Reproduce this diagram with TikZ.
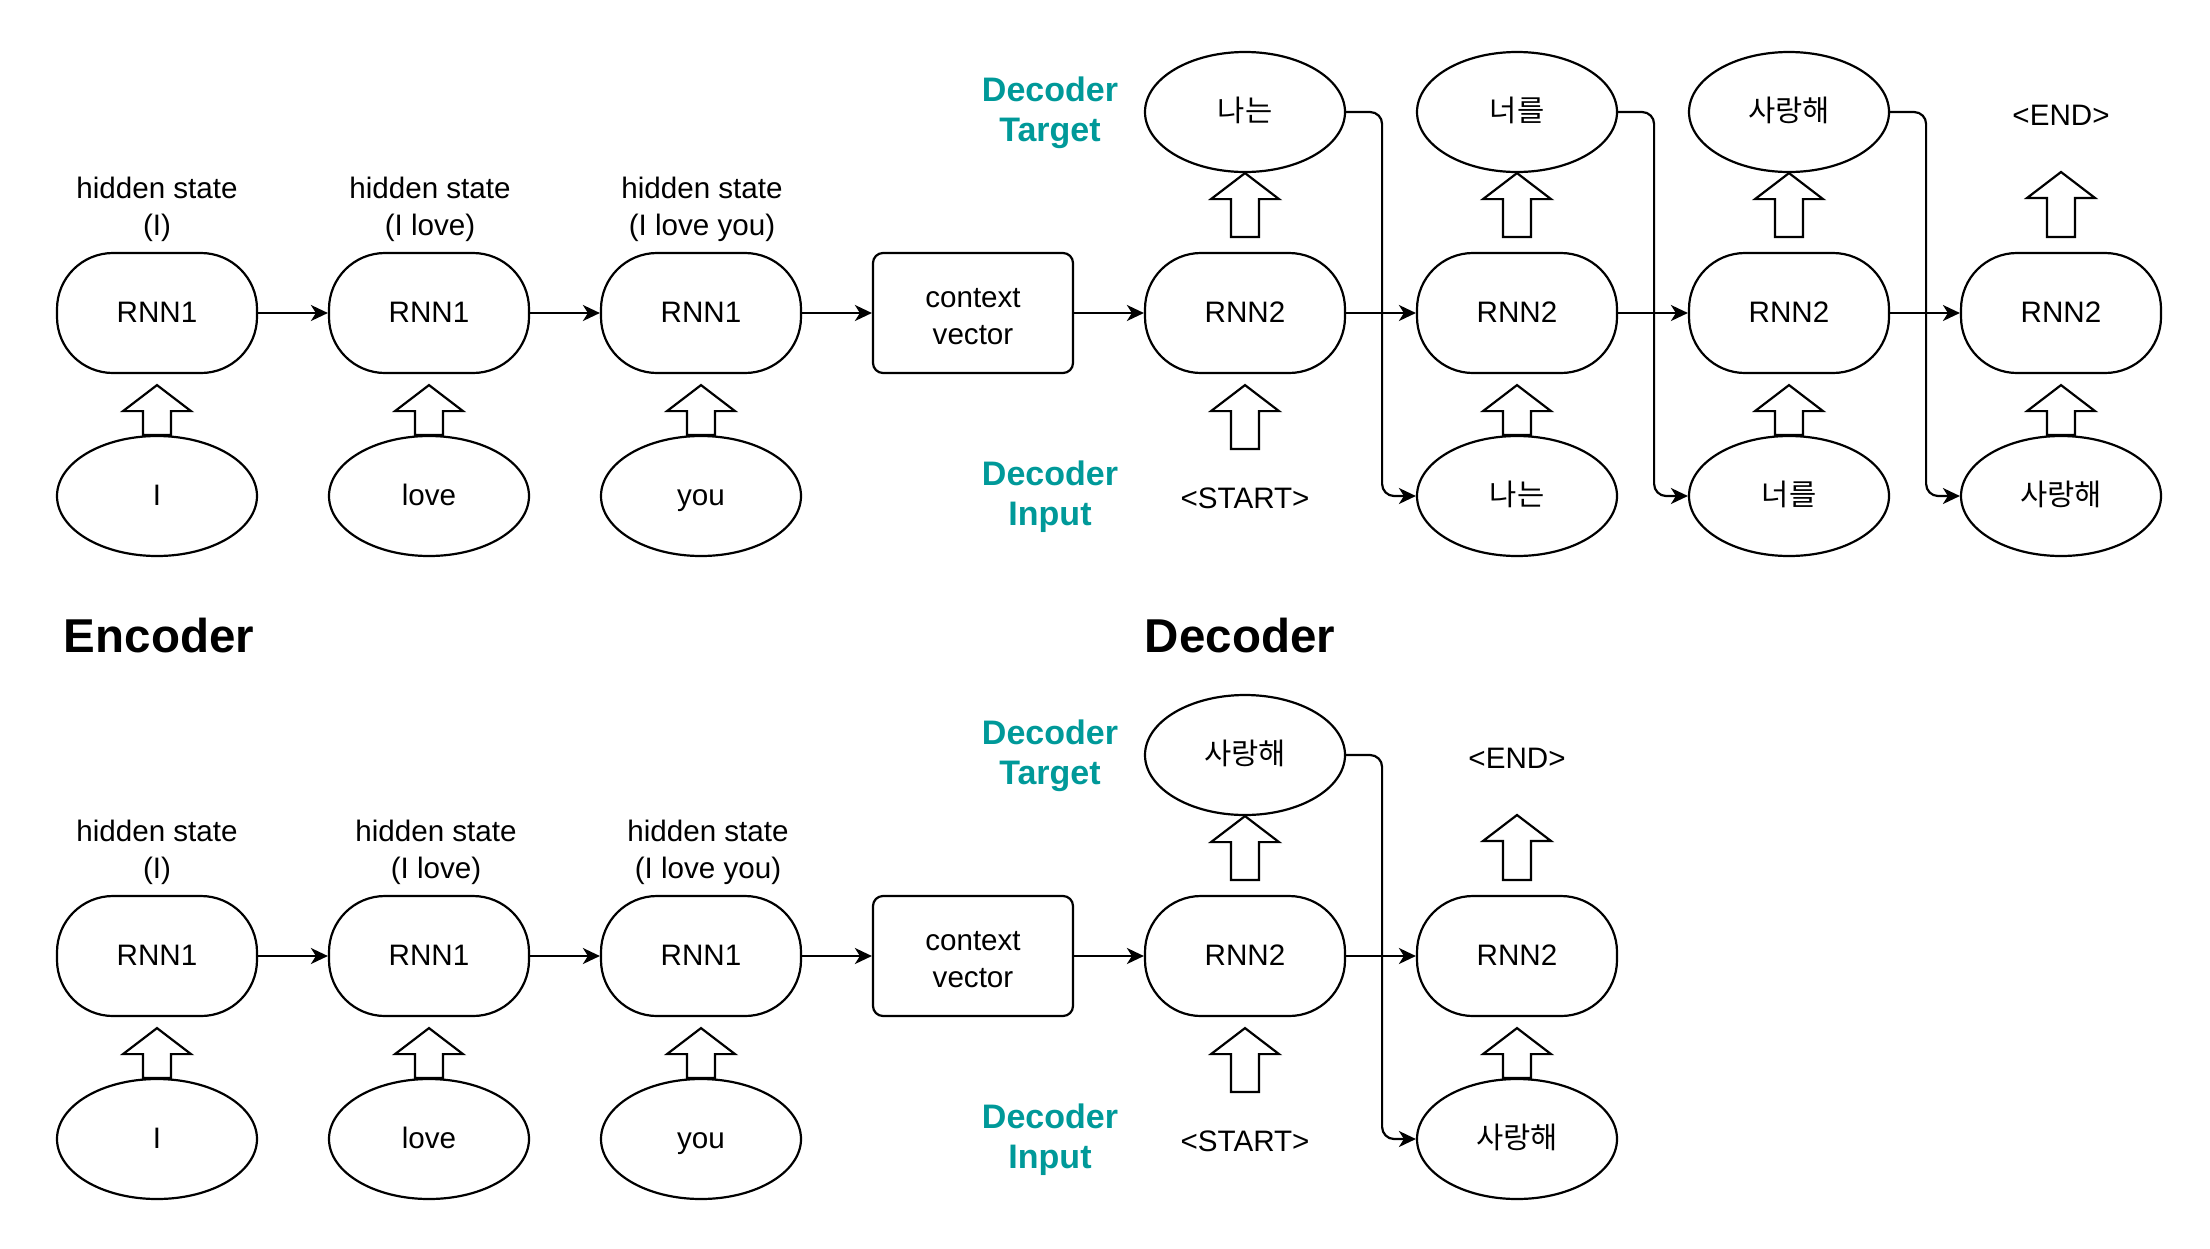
\documentclass[tikz,border=0pt]{standalone}
\usepackage{fontspec}
\setmainfont{Liberation Sans}
\newfontfamily\krfont{Noto Sans CJK KR}
\usepackage{xcolor}
\usepackage{tikz}
\definecolor{decteal}{HTML}{009999}
\newcommand{\kr}[1]{{\krfont #1}}
\usetikzlibrary{arrows.meta,calc,shapes.geometric}
% hollow up arrow: tail, tail shift, tip, tip shift
\newcommand{\fatup}[4]{%
  \draw[fat] ($(#1)+(-14,#2)$) -- ($(#3)+(-14,#4+26)$) -- ($(#3)+(-34,#4+26)$)
    -- ($(#3)+(0,#4)$) -- ($(#3)+(34,#4+26)$) -- ($(#3)+(14,#4+26)$)
    -- ($(#1)+(14,#2)$) -- cycle;}

\begin{document}
\begin{tikzpicture}[x=0.5pt,y=-0.5pt,line width=1.1pt,
  every node/.style={font=\fontsize{14.8}{18.5}\selectfont,inner sep=0pt},
  rnn/.style={draw,rectangle,rounded corners=28pt,minimum width=100pt,
    minimum height=60pt,text height=0.92em,text depth=0pt},
  word/.style={draw,ellipse,minimum width=100pt,minimum height=60pt,
    text height=0.92em,text depth=0pt},
  ctx/.style={draw,rectangle,rounded corners=5pt,minimum width=100pt,
    minimum height=60pt,align=center},
  hid/.style={align=center},
  dec/.style={align=center,text=decteal,font=\bfseries\fontsize{17}{20}\selectfont},
  title/.style={font=\bfseries\fontsize{23.75}{28}\selectfont},
  link/.style={-{Stealth[length=8.5pt,width=8pt,inset=2.5pt]}},
  elbow/.style={link,rounded corners=6pt},
  fat/.style={line join=miter}]
\useasboundingbox (0,0) rectangle (2210,1248);

%% top: encoder
\node[hid] (hid1a) at (157,209) {hidden state\\(I)};
\node[hid] (hid2a) at (430,209) {hidden state\\(I love)};
\node[hid] (hid3a) at (702,209) {hidden state\\(I love you)};
\node[rnn] (rnn1a) at (157,313) {RNN1};
\node[rnn] (rnn2a) at (429,313) {RNN1};
\node[rnn] (rnn3a) at (701,313) {RNN1};
\node[ctx] (ctxa) at (973,313) {\strut context\\vector};
\node[word] (in1a) at (157,496) {I};
\node[word] (in2a) at (429,496) {love};
\node[word] (in3a) at (701,496) {you};

%% top: decoder
\node[dec] (dtgta) at (1050,113) {Decoder\\Target};
\node[dec] (dina) at (1050,497) {Decoder\\Input};
\node[word] (tgt5a) at (1245,112) {\kr{나는}};
\node[word] (tgt6a) at (1517,112) {\kr{너를}};
\node[word] (tgt7a) at (1789,112) {\kr{사랑해}};
\node (end8a) at (2061,115) {<END>};
\node[rnn] (rnn5a) at (1245,313) {RNN2};
\node[rnn] (rnn6a) at (1517,313) {RNN2};
\node[rnn] (rnn7a) at (1789,313) {RNN2};
\node[rnn] (rnn8a) at (2061,313) {RNN2};
\node (start5a) at (1245,498) {<START>};
\node[word] (in6a) at (1517,496) {\kr{나는}};
\node[word] (in7a) at (1789,496) {\kr{너를}};
\node[word] (in8a) at (2061,496) {\kr{사랑해}};

\draw[link] (rnn1a.east) -- (rnn2a.west);
\draw[link] (rnn2a.east) -- (rnn3a.west);
\draw[link] (rnn3a.east) -- (ctxa.west);
\draw[link] (ctxa.east) -- (rnn5a.west);
\draw[link] (rnn5a.east) -- (rnn6a.west);
\draw[link] (rnn6a.east) -- (rnn7a.west);
\draw[link] (rnn7a.east) -- (rnn8a.west);
\draw[elbow] (tgt5a.east) -- ++(36,0) |- (in6a.west);
\draw[elbow] (tgt6a.east) -- ++(36,0) |- (in7a.west);
\draw[elbow] (tgt7a.east) -- ++(36,0) |- (in8a.west);

\fatup{in1a.north}{0}{rnn1a.south}{11}
\fatup{in2a.north}{0}{rnn2a.south}{11}
\fatup{in3a.north}{0}{rnn3a.south}{11}
\fatup{start5a.center}{-49}{rnn5a.south}{11}
\fatup{in6a.north}{0}{rnn6a.south}{11}
\fatup{in7a.north}{0}{rnn7a.south}{11}
\fatup{in8a.north}{0}{rnn8a.south}{11}
\fatup{rnn5a.north}{-15}{tgt5a.south}{0}
\fatup{rnn6a.north}{-15}{tgt6a.south}{0}
\fatup{rnn7a.north}{-15}{tgt7a.south}{0}
\fatup{rnn8a.north}{-15}{end8a.center}{57}

%% titles
\node[title] (enctitle) at (159,636) {Encoder};
\node[title] (dectitle) at (1240,636) {Decoder};

%% bottom: encoder
\node[hid] (hid1b) at (157,852) {hidden state\\(I)};
\node[hid] (hid2b) at (436,852) {hidden state\\(I love)};
\node[hid] (hid3b) at (708,852) {hidden state\\(I love you)};
\node[rnn] (rnn1b) at (157,956) {RNN1};
\node[rnn] (rnn2b) at (429,956) {RNN1};
\node[rnn] (rnn3b) at (701,956) {RNN1};
\node[ctx] (ctxb) at (973,956) {\strut context\\vector};
\node[word] (in1b) at (157,1139) {I};
\node[word] (in2b) at (429,1139) {love};
\node[word] (in3b) at (701,1139) {you};

%% bottom: decoder
\node[dec] (dtgtb) at (1050,756) {Decoder\\Target};
\node[dec] (dinb) at (1050,1140) {Decoder\\Input};
\node[word] (tgt5b) at (1245,755) {\kr{사랑해}};
\node (end6b) at (1517,758) {<END>};
\node[rnn] (rnn5b) at (1245,956) {RNN2};
\node[rnn] (rnn6b) at (1517,956) {RNN2};
\node (start5b) at (1245,1141) {<START>};
\node[word] (in6b) at (1517,1139) {\kr{사랑해}};

\draw[link] (rnn1b.east) -- (rnn2b.west);
\draw[link] (rnn2b.east) -- (rnn3b.west);
\draw[link] (rnn3b.east) -- (ctxb.west);
\draw[link] (ctxb.east) -- (rnn5b.west);
\draw[link] (rnn5b.east) -- (rnn6b.west);
\draw[elbow] (tgt5b.east) -- ++(36,0) |- (in6b.west);

\fatup{in1b.north}{0}{rnn1b.south}{11}
\fatup{in2b.north}{0}{rnn2b.south}{11}
\fatup{in3b.north}{0}{rnn3b.south}{11}
\fatup{start5b.center}{-49}{rnn5b.south}{11}
\fatup{in6b.north}{0}{rnn6b.south}{11}
\fatup{rnn5b.north}{-15}{tgt5b.south}{0}
\fatup{rnn6b.north}{-15}{end6b.center}{57}
\end{tikzpicture}
\end{document}
